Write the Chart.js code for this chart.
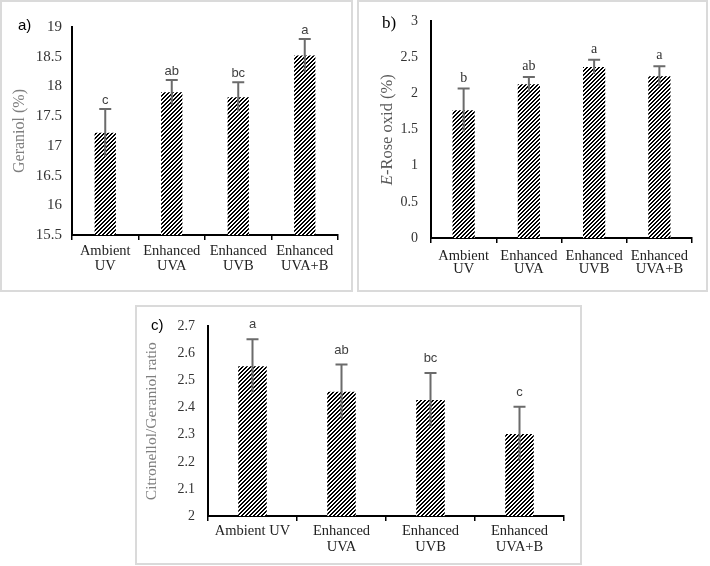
<!DOCTYPE html>
<html>
<head>
<meta charset="utf-8">
<script src="https://cdn.jsdelivr.net/npm/chart.js@4"></script>
<style>
  body { margin: 0; background: #fff; width: 710px; height: 566px; position: relative; overflow: hidden; }
  .panel { position: absolute; box-sizing: border-box; border: 2px solid #dadada; }
  .panel canvas { position: absolute; left: -2px; top: -2px; }
  .tag { position: absolute; font-size: 15px; color: #000; line-height: 1; }
</style>
</head>
<body>
<div class="panel" id="pa" style="left:0;top:0;width:353px;height:292px;">
  <canvas id="graficoA"></canvas>
  <div class="tag" style="left:16px;top:15px;font-family:'Liberation Sans';">a)</div>
</div>
<div class="panel" id="pb" style="left:357px;top:0;width:351px;height:292px;">
  <canvas id="graficoB"></canvas>
  <div class="tag" style="left:23px;top:12px;font-family:'Liberation Serif';font-size:17px;">b)</div>
</div>
<div class="panel" id="pc" style="left:135px;top:305px;width:447px;height:260px;">
  <canvas id="graficoC"></canvas>
  <div class="tag" style="left:14px;top:10px;font-family:'Liberation Sans';">c)</div>
</div>
<script>
var categoriesAB = [['Ambient', 'UV'], ['Enhanced', 'UVA'], ['Enhanced', 'UVB'], ['Enhanced', 'UVA+B']];
var categoriesC = ['Ambient UV', ['Enhanced', 'UVA'], ['Enhanced', 'UVB'], ['Enhanced', 'UVA+B']];

var geraniol = [17.22, 17.90, 17.82, 18.52];
var geraniolErr = [0.40, 0.21, 0.25, 0.28];
var geraniolLetters = ['c', 'ab', 'bc', 'a'];

var roseOxid = [1.77, 2.13, 2.37, 2.24];
var roseOxidErr = [0.30, 0.10, 0.10, 0.14];
var roseOxidLetters = ['b', 'ab', 'a', 'a'];

var ratio = [2.553, 2.459, 2.428, 2.303];
var ratioErr = [0.10, 0.10, 0.10, 0.10];
var ratioLetters = ['a', 'ab', 'bc', 'c'];

// y axis ranges: [min, max, step]
var yRangeA = [15.5, 19, 0.5];
var yRangeB = [0, 3, 0.5];
var yRangeC = [2, 2.7, 0.1];

function makeHatch() {
  var c = document.createElement('canvas');
  c.width = 4; c.height = 4;
  var g = c.getContext('2d');
  g.fillStyle = '#fff';
  g.fillRect(0, 0, 4, 4);
  g.fillStyle = '#000';
  for (var y = 0; y < 4; y++) {
    for (var x = 0; x < 4; x++) {
      if ((x + y) % 4 < 2) g.fillRect(x, y, 1, 1);
    }
  }
  return g.createPattern(c, 'repeat');
}
var hatch = makeHatch();

// error bars (top cap only) + significance letters
var errorBarPlugin = {
  id: 'errorBars',
  afterDatasetsDraw(chart, args, opts) {
    var ctx = chart.ctx;
    var meta = chart.getDatasetMeta(0);
    var yScale = chart.scales.y;
    var values = chart.data.datasets[0].data;
    ctx.save();
    meta.data.forEach(function (bar, i) {
      var top = yScale.getPixelForValue(values[i] + opts.errors[i]);
      var bot = yScale.getPixelForValue(values[i] - opts.errors[i]);
      ctx.strokeStyle = '#6b6b6b';
      ctx.lineWidth = 2;
      ctx.beginPath();
      ctx.moveTo(bar.x, bot);
      ctx.lineTo(bar.x, top);
      ctx.moveTo(bar.x - 6, top);
      ctx.lineTo(bar.x + 6, top);
      ctx.stroke();
      ctx.fillStyle = opts.letterColor;
      ctx.font = opts.letterFont;
      ctx.textAlign = 'center';
      ctx.textBaseline = 'alphabetic';
      ctx.fillText(opts.letters[i], bar.x, top - opts.letterGap);
    });
    ctx.restore();
  }
};

// rotated y axis title, allows italic parts
var yTitlePlugin = {
  id: 'yTitle',
  afterDraw(chart, args, opts) {
    var ctx = chart.ctx;
    var area = chart.chartArea;
    ctx.save();
    ctx.translate(opts.x, (area.top + area.bottom) / 2);
    ctx.rotate(-Math.PI / 2);
    ctx.fillStyle = opts.color;
    ctx.textBaseline = 'middle';
    var total = 0;
    opts.parts.forEach(function (p) {
      ctx.font = (p.italic ? 'italic ' : '') + opts.size + 'px "Liberation Serif"';
      total += ctx.measureText(p.t).width;
    });
    var x = -total / 2;
    ctx.textAlign = 'left';
    opts.parts.forEach(function (p) {
      ctx.font = (p.italic ? 'italic ' : '') + opts.size + 'px "Liberation Serif"';
      ctx.fillText(p.t, x, 0);
      x += ctx.measureText(p.t).width;
    });
    ctx.restore();
  }
};

function fmt(v) {
  return String(Number(v.toFixed(2)));
}

function createGrafico(id, w, h, cfg) {
  var el = document.getElementById(id);
  el.style.width = w + 'px';
  el.style.height = h + 'px';
  el.width = w; el.height = h;
  return new Chart(el, {
    type: 'bar',
    data: {
      labels: cfg.labels,
      datasets: [{
        data: cfg.values,
        backgroundColor: hatch,
        borderWidth: 0,
        barPercentage: cfg.barPct,
        categoryPercentage: 1
      }]
    },
    options: {
      responsive: false,
      animation: false,
      devicePixelRatio: 1,
      layout: { padding: { top: cfg.plotTop, right: cfg.padRight, left: 0, bottom: 0 } },
      plugins: {
        legend: { display: false },
        tooltip: { enabled: false },
        errorBars: { errors: cfg.errors, letters: cfg.letters, letterFont: cfg.letterFont, letterColor: cfg.letterColor, letterGap: cfg.letterGap },
        yTitle: { parts: cfg.title, x: cfg.titleX, size: cfg.titleSize, color: cfg.titleColor }
      },
      scales: {
        x: {
          afterFit: function (s) { s.height = cfg.xHeight; },
          grid: { display: true, drawOnChartArea: false, drawTicks: true, tickLength: 5, offset: true, color: '#000', lineWidth: 1.5 },
          border: { display: true, color: '#000', width: 2 },
          ticks: {
            color: '#222', padding: cfg.xPad, maxRotation: 0, autoSkip: false,
            font: { family: 'Liberation Serif', size: 14.5, lineHeight: cfg.xLine }
          }
        },
        y: {
          min: cfg.range[0],
          max: cfg.range[1],
          afterFit: function (s) { s.width = cfg.plotLeft; },
          afterBuildTicks: function (s) {
            var t = [];
            for (var v = cfg.range[0]; v <= cfg.range[1] + 1e-9; v += cfg.range[2]) t.push({ value: Number(v.toFixed(4)) });
            s.ticks = t;
          },
          grid: { display: false, drawTicks: false },
          border: { display: true, color: '#000', width: 2 },
          ticks: {
            color: '#333', padding: cfg.yPad,
            font: { family: 'Liberation Serif', size: cfg.tickSize },
            callback: function (v) { return fmt(v); }
          }
        }
      }
    },
    plugins: [errorBarPlugin, yTitlePlugin]
  });
}

createGrafico('graficoA', 353, 292, {
  labels: categoriesAB, values: geraniol, errors: geraniolErr, letters: geraniolLetters,
  range: yRangeA, barPct: 0.32,
  plotTop: 27, padRight: 15, plotLeft: 72, xHeight: 57, xPad: 4, xLine: 1.04, yPad: 10, tickSize: 15,
  letterFont: '13px "Liberation Sans"', letterColor: '#404040', letterGap: 5,
  title: [{ t: 'Geraniol (%)' }], titleX: 20, titleSize: 16, titleColor: '#7f7f7f'
});

createGrafico('graficoB', 351, 292, {
  labels: categoriesAB, values: roseOxid, errors: roseOxidErr, letters: roseOxidLetters,
  range: yRangeB, barPct: 0.34,
  plotTop: 18, padRight: 16, plotLeft: 74, xHeight: 54, xPad: 6, xLine: 0.95, yPad: 13, tickSize: 14,
  letterFont: '14px "Liberation Serif"', letterColor: '#333', letterGap: 7,
  title: [{ t: 'E', italic: true }, { t: '-Rose oxid (%)' }], titleX: 31, titleSize: 16.5, titleColor: '#595959'
});

createGrafico('graficoC', 447, 260, {
  labels: categoriesC, values: ratio, errors: ratioErr, letters: ratioLetters,
  range: yRangeC, barPct: 0.32,
  plotTop: 18, padRight: 18, plotLeft: 73, xHeight: 49, xPad: 2, xLine: 1.1, yPad: 13, tickSize: 14,
  letterFont: '13px "Liberation Sans"', letterColor: '#404040', letterGap: 11,
  title: [{ t: 'Citronellol/Geraniol ratio' }], titleX: 17, titleSize: 15.5, titleColor: '#7f7f7f'
});
</script>
</body>
</html>
